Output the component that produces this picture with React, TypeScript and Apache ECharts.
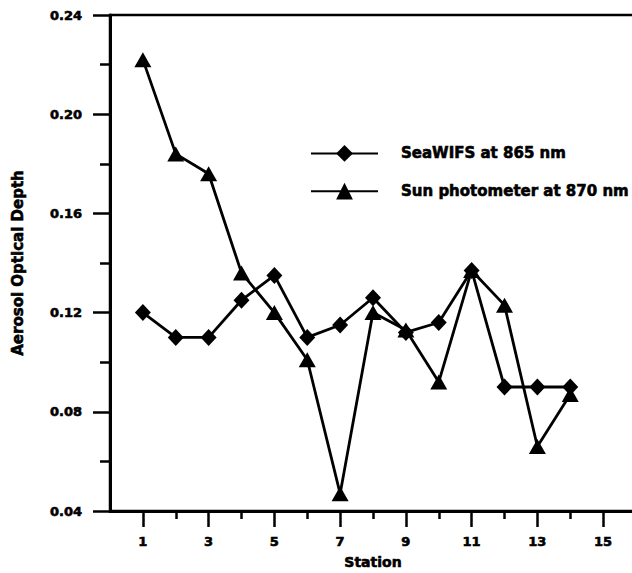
import React, { useEffect, useRef } from "react";
import * as echarts from "echarts";

const stations = [1, 2, 3, 4, 5, 6, 7, 8, 9, 10, 11, 12, 13, 14];
const seaWifs = [0.12, 0.11, 0.11, 0.125, 0.135, 0.11, 0.115, 0.126, 0.112, 0.116, 0.137, 0.09, 0.09, 0.09];
const sunPhotometer = [0.222, 0.184, 0.176, 0.136, 0.12, 0.101, 0.047, 0.12, 0.113, 0.092, 0.137, 0.123, 0.066, 0.087];
const yTicks = [0.04, 0.08, 0.12, 0.16, 0.2, 0.24];
const xLabelStations = [1, 3, 5, 7, 9, 11, 13, 15];
const xMinorStations = [2, 4, 6, 8, 10, 12, 14];

const FONT = "DejaVu Sans";

export default function App() {
  const ref = useRef<HTMLDivElement>(null);
  useEffect(() => {
    document.body.style.margin = "0";
    const chart = echarts.init(ref.current!, null, { renderer: "svg" });
    const tickLine = { color: "#000", width: 2.5 };
    const heavy = { textBorderColor: "#000", textBorderWidth: 0.6 };
    chart.setOption({
      animation: false,
      backgroundColor: "#fff",
      textStyle: { fontFamily: FONT, fontWeight: "bold", color: "#000" },
      grid: {
        left: 110,
        top: 15,
        width: 526,
        height: 496,
        show: true,
        borderColor: "#000",
        borderWidth: 2.5,
        backgroundColor: "transparent",
        outerBoundsMode: "none",
        containLabel: false,
      },
      legend: {
        orient: "vertical",
        left: 305,
        top: 140,
        itemWidth: 67,
        itemHeight: 21,
        itemGap: 21,
        textStyle: {
          fontFamily: FONT,
          fontSize: 15,
          fontWeight: "bold",
          color: "#000",
          padding: [0, 0, 0, 18],
          ...heavy,
        },
        data: ["SeaWIFS at 865 nm", "Sun photometer at 870 nm"],
      },
      xAxis: [
        {
          type: "value",
          min: 0,
          max: 16,
          position: "bottom",
          axisLine: { show: true, onZero: false, lineStyle: { color: "#000", width: 3 } },
          axisTick: { show: true, customValues: xLabelStations, length: 16, lineStyle: tickLine },
          axisLabel: {
            customValues: xLabelStations,
            margin: 24,
            fontSize: 13,
            fontWeight: "bold",
            fontFamily: FONT,
            color: "#000",
            ...heavy,
          },
          splitLine: { show: false },
          name: "Station",
          nameLocation: "middle",
          nameGap: 44,
          nameTextStyle: { fontSize: 14, fontWeight: "bold", fontFamily: FONT, color: "#000", ...heavy },
        },
        {
          type: "value",
          min: 0,
          max: 16,
          position: "bottom",
          axisLine: { show: false },
          axisTick: { show: true, customValues: xMinorStations, length: 8, lineStyle: tickLine },
          axisLabel: { show: false },
          splitLine: { show: false },
        },
      ],
      yAxis: {
        type: "value",
        min: 0.04,
        max: 0.24,
        interval: 0.04,
        axisLine: { show: true, lineStyle: { color: "#000", width: 3 } },
        axisTick: { show: true, length: 17, lineStyle: tickLine },
        minorTick: { show: true, splitNumber: 2, length: 10, lineStyle: tickLine },
        minorSplitLine: { show: false },
        axisLabel: {
          customValues: yTicks,
          margin: 28,
          fontSize: 13,
          fontWeight: "bold",
          fontFamily: FONT,
          color: "#000",
          formatter: (v: number) => v.toFixed(2),
          ...heavy,
        },
        splitLine: { show: false },
        name: "Aerosol Optical Depth",
        nameLocation: "middle",
        nameGap: 85,
        nameTextStyle: { fontSize: 15, fontWeight: "bold", fontFamily: FONT, color: "#000", ...heavy },
      },
      series: [
        {
          name: "SeaWIFS at 865 nm",
          type: "line",
          data: stations.map((s, i) => [s, seaWifs[i]]),
          symbol: "diamond",
          symbolSize: [16, 17],
          showAllSymbol: true,
          lineStyle: { color: "#000", width: 2.8 },
          itemStyle: { color: "#000", borderWidth: 0 },
          z: 2,
        },
        {
          name: "Sun photometer at 870 nm",
          type: "line",
          data: stations.map((s, i) => [s, sunPhotometer[i]]),
          symbol: "triangle",
          symbolSize: [17, 15],
          showAllSymbol: true,
          lineStyle: { color: "#000", width: 2.8 },
          itemStyle: { color: "#000", borderWidth: 0 },
          z: 3,
        },
      ],
    });
    return () => chart.dispose();
  }, []);
  return (
    <div
      ref={ref}
      style={{ position: "absolute", left: 0, top: 0, width: 632, height: 573, background: "#fff" }}
    />
  );
}
